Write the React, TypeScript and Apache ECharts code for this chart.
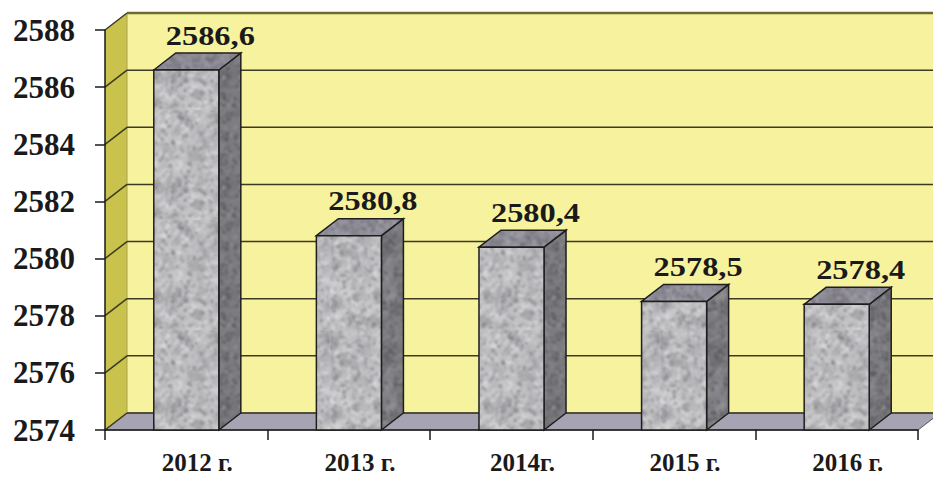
import React, { useEffect, useRef } from 'react';
import * as echarts from 'echarts';

// ---- data ----
const categories: string[] = ['2012 г.', '2013 г.', '2014г.', '2015 г.', '2016 г.'];
const values: number[] = [2586.6, 2580.8, 2580.4, 2578.5, 2578.4];
const valueLabels: string[] = ['2586,6', '2580,8', '2580,4', '2578,5', '2578,4'];
const yMin = 2574;
const yMax = 2588;
const yStep = 2;

// ---- style ----
const DX = 22;
const DY = -17;
const FONT = 'Liberation Serif, Times New Roman, serif';

function makeTexture(base: string, palette: string[], seed: number, size = 110): HTMLCanvasElement {
  const c = document.createElement('canvas');
  c.width = size;
  c.height = size;
  const ctx = c.getContext('2d')!;
  ctx.fillStyle = base;
  ctx.fillRect(0, 0, size, size);
  let s = seed >>> 0;
  const rnd = () => {
    s = (Math.imul(s, 1664525) + 1013904223) >>> 0;
    return s / 4294967296;
  };
  const blob = (count: number, rMin: number, rMax: number, aMin: number, aMax: number, pal: string[]) => {
    for (let i = 0; i < count; i++) {
      const x = rnd() * size;
      const y = rnd() * size;
      const r = rMin + rnd() * (rMax - rMin);
      ctx.fillStyle = pal[Math.floor(rnd() * pal.length)];
      ctx.globalAlpha = aMin + rnd() * (aMax - aMin);
      for (const ox of [-size, 0, size]) {
        for (const oy of [-size, 0, size]) {
          ctx.beginPath();
          ctx.arc(x + ox, y + oy, r, 0, Math.PI * 2);
          ctx.fill();
        }
      }
    }
  };
  blob(120, 4, 8, 0.12, 0.3, palette);
  blob(1300, 0.6, 2.4, 0.2, 0.4, palette);
  blob(160, 0.7, 1.6, 0.35, 0.6, [palette[0]]);
  ctx.globalAlpha = 1;
  const c2 = document.createElement('canvas');
  c2.width = size;
  c2.height = size;
  const ctx2 = c2.getContext('2d')!;
  ctx2.fillStyle = base;
  ctx2.fillRect(0, 0, size, size);
  try {
    (ctx2 as any).filter = 'blur(0.9px)';
  } catch (e) {
    /* ignore */
  }
  ctx2.drawImage(c, 0, 0);
  return c2;
}

export default function App() {
  const ref = useRef<HTMLDivElement>(null);

  useEffect(() => {
    if (!ref.current) return;
    const chart = echarts.init(ref.current, undefined, { renderer: 'svg' });

    const frontTex = makeTexture('#c0c0c3', ['#6e6e72', '#8e8e92', '#e4e4e6', '#f4f4f6', '#a8a8ac'], 12345);
    const sideTex = makeTexture('#7c7c80', ['#48484c', '#5e5e62', '#a0a0a4', '#8c8c90'], 777);
    const topTex = makeTexture('#908e98', ['#5a5860', '#726f78', '#bab8c2', '#a6a4ae'], 4242);
    const pat = (img: HTMLCanvasElement) => ({
      image: img,
      repeat: 'repeat',
      imageWidth: img.width,
      imageHeight: img.height,
    });

    const ticks: number[] = [];
    for (let v = yMin; v <= yMax; v += yStep) ticks.push(v);

    const option: any = {
      animation: false,
      backgroundColor: '#ffffff',
      grid: { left: 105, right: 15, top: 30, bottom: 48, containLabel: false },
      xAxis: {
        type: 'category',
        data: categories,
        axisLine: { show: true, lineStyle: { color: '#1a1a1a', width: 1.5 } },
        axisTick: { show: true, length: 10, lineStyle: { color: '#1a1a1a', width: 1.5 } },
        axisLabel: {
          margin: 20,
          padding: [0, 0, 0, 22],
          color: '#1a1a1a',
          fontFamily: FONT,
          fontWeight: 'bold',
          fontSize: 25,
        },
        splitLine: { show: false },
      },
      yAxis: {
        type: 'value',
        min: yMin,
        max: yMax,
        interval: yStep,
        axisLine: { show: true, lineStyle: { color: '#1a1a1a', width: 1.5 } },
        axisTick: { show: true, length: 10, lineStyle: { color: '#1a1a1a', width: 1.5 } },
        axisLabel: {
          margin: 30,
          color: '#1a1a1a',
          fontFamily: FONT,
          fontWeight: 'bold',
          fontSize: 31,
          formatter: (v: number) => String(v),
        },
        splitLine: { show: false },
      },
      series: [
        {
          type: 'custom',
          z: -1,
          silent: true,
          encode: { x: 0, y: 1 },
          data: [[0, yMin]],
          renderItem: (params: any, api: any) => {
            const cs = params.coordSys;
            const gx = cs.x;
            const gy = cs.y;
            const gw = cs.width;
            const gh = cs.height;
            const right = gx + gw + DX + 30;
            const yb = gy + gh;
            const children: any[] = [
              {
                type: 'rect',
                shape: { x: gx + DX, y: gy + DY, width: right - gx - DX, height: gh },
                style: { fill: '#f6f29e' },
              },
              {
                type: 'polygon',
                shape: { points: [[gx, gy], [gx + DX, gy + DY], [gx + DX, yb + DY], [gx, yb]] },
                style: { fill: '#c9c24c' },
              },
              {
                type: 'polygon',
                shape: { points: [[gx, yb], [gx + DX, yb + DY], [gx + gw + DX, yb + DY], [gx + gw, yb]] },
                style: { fill: '#a6a3b2', stroke: '#55535c', lineWidth: 1 },
              },
              {
                type: 'line',
                shape: { x1: gx + DX, y1: gy + DY, x2: gx + DX, y2: yb + DY },
                style: { stroke: '#a8a250', lineWidth: 1 },
              },
            ];
            ticks.forEach((v) => {
              const p = api.coord([0, v]);
              const y = p[1];
              children.push({
                type: 'line',
                shape: { x1: gx, y1: y, x2: gx + DX, y2: y + DY },
                style: { stroke: '#3c3a22', lineWidth: 1.5 },
              });
              children.push({
                type: 'line',
                shape: { x1: gx + DX, y1: y + DY, x2: right, y2: y + DY },
                style: { stroke: v === yMax ? '#6e6a30' : '#3c3a22', lineWidth: v === yMax ? 2.5 : 1.5 },
              });
            });
            return { type: 'group', children };
          },
        },
        {
          type: 'custom',
          z: 2,
          encode: { x: 0, y: 1 },
          data: values.map((v, i) => [i, v]),
          renderItem: (params: any, api: any) => {
            const idx = api.value(0);
            const v = api.value(1);
            const top = api.coord([idx, v]);
            const bot = api.coord([idx, yMin]);
            const w = api.size([1, 0])[0] * 0.4;
            const x0 = top[0] - w / 2;
            const x1 = top[0] + w / 2;
            const yt = top[1];
            const yb = bot[1];
            return {
              type: 'group',
              children: [
                {
                  type: 'polygon',
                  shape: { points: [[x1, yt], [x1 + DX, yt + DY], [x1 + DX, yb + DY], [x1, yb]] },
                  style: { fill: pat(sideTex), stroke: '#1e1e1e', lineWidth: 1.5 },
                },
                {
                  type: 'polygon',
                  shape: { points: [[x0, yt], [x0 + DX, yt + DY], [x1 + DX, yt + DY], [x1, yt]] },
                  style: { fill: pat(topTex), stroke: '#1e1e1e', lineWidth: 1.5 },
                },
                {
                  type: 'rect',
                  shape: { x: x0, y: yt, width: w, height: yb - yt },
                  style: { fill: pat(frontTex), stroke: '#1e1e1e', lineWidth: 1.5 },
                },
                {
                  type: 'text',
                  x: top[0] + 24,
                  y: yt - 35,
                  scaleX: 1.2,
                  style: {
                    text: valueLabels[params.dataIndex],
                    fill: '#1a1a1a',
                    fontFamily: FONT,
                    fontWeight: 'bold',
                    fontSize: 27,
                    align: 'center',
                    verticalAlign: 'middle',
                  },
                },
              ],
            };
          },
        },
      ],
    };

    chart.setOption(option);
    return () => {
      chart.dispose();
    };
  }, []);

  return (
    <div
      ref={ref}
      style={{ position: 'absolute', left: 0, top: 0, width: 933, height: 478 }}
    />
  );
}
